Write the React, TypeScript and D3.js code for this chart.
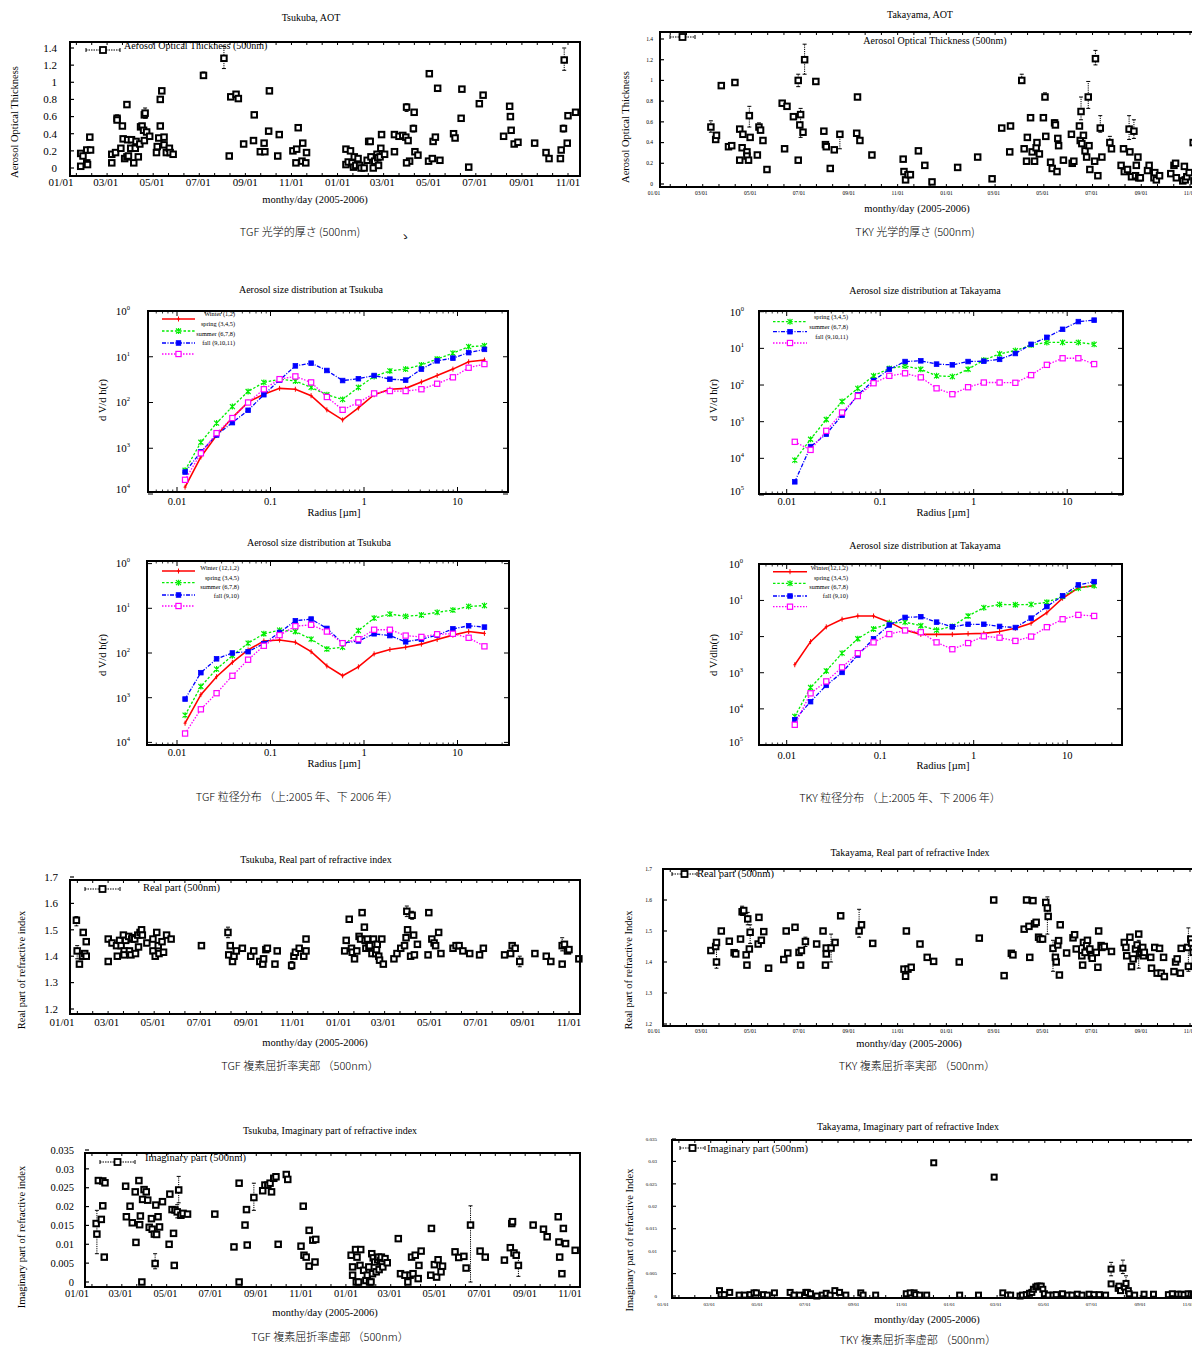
import React, { useEffect } from "react";
import * as d3 from "d3";

const SERIF = "'Liberation Serif', 'Times New Roman', serif";
const CJK = "'Noto Sans CJK JP', 'Noto Sans CJK SC', sans-serif";

// ---------- tick labels ----------
const monthTicks = ["2005-01-01", "2005-03-01", "2005-05-01", "2005-07-01", "2005-09-01", "2005-11-01",
  "2006-01-01", "2006-03-01", "2006-05-01", "2006-07-01", "2006-09-01", "2006-11-01"];
const radiusTicks = [0.01, 0.1, 1, 10];
const aotTicks = [0, 0.2, 0.4, 0.6, 0.8, 1, 1.2, 1.4];
const realTicks = [1.2, 1.3, 1.4, 1.5, 1.6, 1.7];
const imagTicks = [0, 0.005, 0.01, 0.015, 0.02, 0.025, 0.03, 0.035];
const decades4 = [0, 1, 2, 3, 4];
const decades5 = [0, 1, 2, 3, 4, 5];

// ---------- size distribution (radius in µm, dV/dln r) ----------
const radii = [0.0122, 0.018, 0.0265, 0.0391, 0.0576, 0.0849, 0.1251, 0.1845, 0.2719, 0.4008,
  0.5907, 0.8708, 1.283, 1.892, 2.789, 4.111, 6.059, 8.931, 13.16, 19.41];

const tgf05Winter = [1.41e-4, 6.46e-4, 1.91e-3, 4.68e-3, 1.02e-2, 1.51e-2, 2.04e-2, 1.95e-2, 1.41e-2, 6.92e-3,
  4.17e-3, 7.59e-3, 1.48e-2, 1.95e-2, 2.04e-2, 2.82e-2, 3.89e-2, 5.37e-2, 7.76e-2, 8.51e-2];
const tgf05Spring = [3.31e-4, 1.35e-3, 3.55e-3, 8.13e-3, 1.74e-2, 2.75e-2, 3.24e-2, 2.95e-2, 2.14e-2, 1.48e-2,
  1.17e-2, 2.14e-2, 3.72e-2, 4.9e-2, 5.37e-2, 6.61e-2, 8.91e-2, 0.12, 0.166, 0.174];
const tgf05Summer = [3.02e-4, 8.32e-4, 1.95e-3, 3.63e-3, 6.76e-3, 1.48e-2, 3.09e-2, 6.31e-2, 7.24e-2, 5.01e-2,
  3.02e-2, 3.31e-2, 3.89e-2, 3.24e-2, 3.09e-2, 5.37e-2, 8.13e-2, 9.33e-2, 0.123, 0.145];
const tgf05Fall = [2.04e-4, 7.76e-4, 2.14e-3, 4.57e-3, 1.0e-2, 1.95e-2, 3.24e-2, 3.72e-2, 2.75e-2, 1.32e-2,
  6.92e-3, 1.0e-2, 1.58e-2, 1.78e-2, 1.78e-2, 1.95e-2, 2.57e-2, 3.55e-2, 5.75e-2, 6.92e-2];

const tky05Spring = [8.91e-5, 3.31e-4, 1.15e-3, 3.55e-3, 8.13e-3, 1.78e-2, 2.82e-2, 3.31e-2, 2.69e-2, 1.78e-2,
  1.7e-2, 2.69e-2, 4.79e-2, 7.08e-2, 8.71e-2, 0.123, 0.145, 0.145, 0.145, 0.129];
const tky05Summer = [2.29e-5, 2.09e-4, 4.57e-4, 1.51e-3, 5.37e-3, 1.32e-2, 2.69e-2, 4.37e-2, 4.57e-2, 3.72e-2,
  3.55e-2, 4.37e-2, 4.47e-2, 5.01e-2, 7.24e-2, 0.129, 0.2, 0.331, 0.537, 0.589];
const tky05Fall = [2.82e-4, 1.7e-4, 5.62e-4, 1.78e-3, 5.01e-3, 1.12e-2, 1.78e-2, 2.09e-2, 1.62e-2, 8.13e-3,
  5.62e-3, 8.71e-3, 1.17e-2, 1.17e-2, 1.15e-2, 1.86e-2, 3.55e-2, 5.37e-2, 5.37e-2, 3.72e-2];

const tgf06Winter = [2.69e-4, 1.17e-3, 2.95e-3, 6.17e-3, 1.17e-2, 1.86e-2, 1.95e-2, 1.74e-2, 1.07e-2, 5.13e-3,
  3.09e-3, 4.9e-3, 9.55e-3, 1.2e-2, 1.35e-2, 1.58e-2, 2.0e-2, 2.51e-2, 3.02e-2, 2.75e-2];
const tgf06Spring = [4.07e-4, 1.78e-3, 4.37e-3, 8.71e-3, 1.66e-2, 2.69e-2, 3.24e-2, 3.02e-2, 2.04e-2, 1.23e-2,
  1.35e-2, 3.16e-2, 6.03e-2, 7.41e-2, 6.61e-2, 7.08e-2, 8.13e-2, 9.12e-2, 0.11, 0.115];
const tgf06Summer = [9.33e-4, 3.63e-3, 7.41e-3, 1.0e-2, 1.07e-2, 1.62e-2, 2.88e-2, 5.25e-2, 5.75e-2, 3.55e-2,
  1.66e-2, 1.86e-2, 2.69e-2, 2.45e-2, 1.78e-2, 2.04e-2, 2.51e-2, 3.47e-2, 4.07e-2, 3.8e-2];
const tgf06Fall = [1.58e-4, 5.5e-4, 1.26e-3, 3.09e-3, 7.08e-3, 1.45e-2, 2.51e-2, 3.98e-2, 4.27e-2, 3.02e-2,
  1.66e-2, 2.04e-2, 3.31e-2, 3.31e-2, 2.45e-2, 2.29e-2, 2.63e-2, 2.69e-2, 2.19e-2, 1.41e-2];

const tky06Winter = [1.66e-3, 7.24e-3, 1.86e-2, 3.02e-2, 3.72e-2, 3.72e-2, 2.51e-2, 1.51e-2, 1.15e-2, 1.15e-2,
  1.15e-2, 1.2e-2, 1.23e-2, 1.38e-2, 1.7e-2, 2.34e-2, 4.57e-2, 0.115, 0.224, 0.257];
const tky06Spring = [6.17e-5, 3.89e-4, 1.12e-3, 3.47e-3, 8.71e-3, 1.62e-2, 2.34e-2, 2.51e-2, 2.0e-2, 1.51e-2,
  1.91e-2, 3.72e-2, 6.31e-2, 7.76e-2, 7.59e-2, 7.76e-2, 8.91e-2, 0.129, 0.219, 0.257];
const tky06Summer = [5.01e-5, 1.58e-4, 4.47e-4, 1.02e-3, 3.09e-3, 8.71e-3, 2.09e-2, 3.39e-2, 3.55e-2, 2.51e-2,
  1.86e-2, 2.19e-2, 2.19e-2, 1.91e-2, 1.78e-2, 3.24e-2, 6.76e-2, 0.135, 0.269, 0.331];
const tky06Fall = [3.63e-5, 2.69e-4, 5.75e-4, 1.41e-3, 3.47e-3, 6.92e-3, 1.17e-2, 1.48e-2, 1.32e-2, 6.92e-3,
  4.47e-3, 6.61e-3, 1.02e-2, 9.33e-3, 7.59e-3, 1.0e-2, 1.82e-2, 3.02e-2, 3.98e-2, 3.72e-2];

// ---------- time series: [day since 2005-01-01, value] ----------
const tgfAot: [number, number][] = [[26,0.17],[26,0.02],[29,0.14],[34,0.21],[34,0.06],[35,0.04],[38,0.36],[39,0.21],[67,0.06],[67,0.16],[72,0.18],[74,0.58],[74,0.56],[79,0.23],[81,0.49],[82,0.34],[84,0.11],[87,0.13],[88,0.33],[87,0.74],[89,0.14],[92,0.23],[93,0.33],[96,0.06],[98,0.23],[99,0.31],[102,0.13],[104,0.28],[105,0.48],[107,0.49],[109,0.44],[110,0.32],[110,0.62],[111,0.64],[113,0.42],[117,0.37],[126,0.18],[127,0.25],[129,0.35],[131,0.49],[131,0.8],[133,0.9],[136,0.36],[136,0.27],[139,0.18],[143,0.23],[144,0.18],[148,0.16],[188,1.08],[215,1.28],[222,0.14],[224,0.83],[231,0.86],[234,0.81],[241,0.28],[255,0.62],[254,0.32],[263,0.19],[268,0.29],[269,0.19],[274,0.43],[275,0.9],[286,0.14],[288,0.39],[306,0.2],[310,0.06],[311,0.22],[313,0.47],[318,0.08],[319,0.29],[323,0.06],[324,0.18],
  [376,0.22],[376,0.04],[379,0.07],[382,0.2],[384,0.06],[386,0.01],[387,0.13],[389,0.03],[392,0.11],[394,0.03],[396,0.0],[400,0.0],[404,0.09],[406,0.31],[408,0.31],[409,0.13],[412,0.0],[414,0.08],[417,0.16],[418,0.12],[419,0.03],[421,0.13],[422,0.23],[423,0.39],[427,0.16],[440,0.19],[440,0.39],[446,0.37],[451,0.38],[455,0.36],[456,0.71],[458,0.32],[460,0.08],[456,0.06],[465,0.46],[466,0.65],[467,0.19],[471,0.15],[485,0.08],[486,1.1],[490,0.11],[491,0.31],[494,0.36],[497,0.93],[500,0.09],[518,0.4],[520,0.35],[528,0.58],[529,0.92],[538,0.01],[552,0.75],[557,0.85],[584,0.37],[592,0.72],[593,0.6],[594,0.44],[598,0.28],[603,0.3],[625,0.29],[640,0.18],[644,0.11],[659,0.11],[660,0.21],[663,0.46],[664,1.26],[668,0.29],[669,0.61],[679,0.65]];
const tgfAotErr: [number, number, number][] = [[215,1.16,1.42],[664,1.14,1.4],[188,1.05,1.12],[111,0.58,0.7],[74,0.53,0.62],[456,0.66,0.75],[465,0.42,0.5],[663,0.42,0.5]];

const tkyAot: [number, number][] = [[71,0.55],[77,0.43],[78,0.47],[84,0.95],[93,0.36],[97,0.37],[101,0.98],[107,0.53],[107,0.23],[110,0.35],[111,0.48],[116,0.31],[116,0.27],[118,0.23],[119,0.66],[120,0.45],[129,0.28],[131,0.55],[133,0.52],[136,0.42],[141,0.14],[160,0.78],[163,0.34],[166,0.75],[174,0.65],[180,0.23],[180,1.0],[182,0.57],[183,0.67],[186,0.5],[188,1.2],[202,0.99],[212,0.51],[214,0.38],[215,0.36],[220,0.15],[225,0.33],[232,0.48],[253,0.49],[254,0.84],[257,0.42],[272,0.28],[311,0.24],[312,0.12],[314,0.04],[317,0.09],[320,0.09],[330,0.32],[338,0.18],[347,0.02],[379,0.16],[404,0.26],[422,0.05],[434,0.54],[444,0.31],[445,0.56],[459,1.0],[462,0.34],[465,0.22],[466,0.45],[470,0.64],[472,0.31],[475,0.22],[477,0.35],[478,0.4],[481,0.29],[486,0.64],[488,0.84],[489,0.46],[495,0.21],[497,0.15],[500,0.59],[501,0.57],[503,0.12],[504,0.44],[505,0.37],[511,0.23],[521,0.48],[522,0.2],[524,0.22],[531,0.56],[532,0.42],[533,0.7],[534,0.39],[536,0.47],[538,0.32],[540,0.26],[542,0.84],[543,0.37],[544,0.14],[550,0.22],[551,1.21],[554,0.08],[557,0.54],[559,0.26],[569,0.4],[571,0.34],[583,0.18],[586,0.34],[587,0.12],[591,0.14],[593,0.53],[594,0.31],[596,0.07],[599,0.51],[601,0.08],[602,0.18],[604,0.26],[605,0.06],[607,0.06],[616,0.13],[618,0.18],[624,0.06],[625,0.11],[627,0.04],[631,0.08],[645,0.1],[649,0.18],[651,0.2],[652,0.06],[660,0.03],[662,0.17],[663,0.04],[665,0.07],[668,0.11],[673,0.4],[674,0.03],[676,0.09],[679,0.13],[681,0.04]];
const tkyAotErr: [number, number, number][] = [[188,1.06,1.35],[180,0.94,1.06],[183,0.45,0.73],[119,0.55,0.75],[71,0.5,0.61],[551,1.15,1.29],[542,0.73,0.99],[533,0.62,0.84],[459,0.97,1.06],[557,0.5,0.66],[593,0.43,0.66],[599,0.44,0.62],[232,0.34,0.5],[131,0.5,0.59],[488,0.82,0.88],[500,0.55,0.62],[569,0.37,0.46]];

const tgfReal: [number, number][] = [[19,1.536],[20,1.42],[23,1.37],[27,1.4],[28,1.49],[30,1.41],[32,1.4],[32,1.455],[61,1.465],[61,1.38],[66,1.45],[72,1.44],[73,1.4],[76,1.46],[78,1.44],[81,1.48],[82,1.42],[82,1.405],[84,1.46],[88,1.475],[89,1.42],[91,1.405],[92,1.465],[93,1.47],[96,1.465],[97,1.41],[100,1.48],[101,1.435],[103,1.49],[105,1.5],[106,1.48],[112,1.45],[120,1.465],[120,1.42],[123,1.4],[125,1.49],[127,1.44],[128,1.41],[132,1.455],[134,1.415],[138,1.48],[144,1.465],[184,1.44],[219,1.49],[220,1.405],[222,1.44],[225,1.38],[227,1.4],[230,1.42],[238,1.43],[249,1.4],[253,1.42],[261,1.38],[265,1.37],[266,1.39],[269,1.425],[271,1.43],[281,1.37],[284,1.42],[303,1.365],[306,1.4],[308,1.415],[313,1.43],[319,1.4],[322,1.465],[322,1.42],
  [373,1.42],[375,1.46],[379,1.54],[382,1.43],[383,1.415],[386,1.39],[389,1.42],[392,1.475],[394,1.465],[396,1.565],[399,1.51],[400,1.46],[401,1.43],[403,1.465],[405,1.435],[406,1.44],[409,1.41],[411,1.465],[414,1.41],[415,1.425],[416,1.445],[418,1.4],[419,1.385],[422,1.465],[424,1.37],[438,1.39],[442,1.41],[447,1.43],[452,1.44],[454,1.47],[455,1.57],[456,1.5],[460,1.4],[462,1.555],[464,1.48],[465,1.405],[469,1.445],[483,1.405],[484,1.565],[488,1.465],[491,1.45],[493,1.44],[497,1.49],[500,1.41],[516,1.43],[520,1.44],[524,1.44],[529,1.42],[538,1.41],[551,1.405],[556,1.43],[584,1.405],[592,1.41],[594,1.44],[598,1.43],[604,1.38],[624,1.41],[639,1.4],[645,1.38],[660,1.37],[660,1.44],[663,1.445],[667,1.42],[669,1.425],[682,1.39]];
const tgfRealErr: [number, number, number][] = [[19,1.515,1.55],[219,1.47,1.51],[455,1.55,1.59],[462,1.54,1.57],[604,1.36,1.4],[660,1.42,1.47],[303,1.35,1.38],[20,1.39,1.44]];

const tkyReal: [number, number][] = [[71,1.437],[77,1.45],[78,1.463],[78,1.4],[84,1.5],[94,1.467],[100,1.43],[102,1.426],[108,1.474],[110,1.562],[112,1.566],[115,1.423],[116,1.39],[117,1.539],[119,1.442],[120,1.496],[130,1.458],[131,1.544],[134,1.47],[137,1.498],[143,1.38],[162,1.408],[165,1.5],[167,1.429],[176,1.512],[181,1.431],[183,1.39],[184,1.437],[189,1.466],[203,1.458],[211,1.5],[214,1.39],[215,1.426],[215,1.445],[221,1.445],[226,1.463],[233,1.549],[256,1.5],[259,1.52],[273,1.46],[312,1.377],[314,1.354],[315,1.5],[317,1.377],[321,1.383],[332,1.458],[341,1.415],[349,1.402],[381,1.4],[406,1.477],[424,1.6],[437,1.356],[446,1.428],[448,1.423],[462,1.506],[465,1.6],[468,1.515],[469,1.415],[473,1.598],[475,1.523],[477,1.528],[480,1.48],[482,1.474],[485,1.474],[489,1.592],[491,1.574],[492,1.547],[498,1.444],[501,1.415],[502,1.4],[504,1.455],[505,1.469],[506,1.358],[507,1.52],[515,1.429],[523,1.478],[525,1.488],[527,1.442],[534,1.42],[535,1.39],[536,1.463],[538,1.431],[540,1.453],[541,1.47],[544,1.442],[546,1.42],[547,1.412],[552,1.431],[554,1.383],[555,1.5],[558,1.453],[559,1.447],[562,1.45],[571,1.434],[587,1.463],[589,1.447],[590,1.42],[594,1.48],[596,1.385],[598,1.41],[601,1.442],[603,1.455],[605,1.49],[606,1.426],[608,1.431],[608,1.442],[610,1.447],[611,1.42],[612,1.431],[620,1.415],[621,1.38],[625,1.447],[628,1.364],[631,1.444],[633,1.364],[636,1.415],[637,1.353],[649,1.369],[651,1.4],[653,1.41],[657,1.364],[658,1.444],[666,1.447],[667,1.386],[670,1.474],[671,1.461],[673,1.431],[676,1.404],[678,1.45],[681,1.447],[683,1.38],[685,1.351]];
const tkyRealErr: [number, number, number][] = [[78,1.38,1.46],[110,1.55,1.58],[117,1.52,1.56],[120,1.46,1.52],[221,1.4,1.49],[256,1.48,1.57],[491,1.49,1.61],[498,1.37,1.47],[605,1.38,1.47],[667,1.37,1.51],[189,1.45,1.48],[603,1.41,1.46]];

const tgfImag: [number, number][] = [[26,0.0155],[27,0.0127],[29,0.0269],[33,0.0166],[35,0.0268],[35,0.0202],[37,0.0066],[38,0.0263],[66,0.0254],[67,0.0173],[72,0.0201],[75,0.0157],[79,0.0239],[80,0.0105],[84,0.0269],[85,0.0152],[86,0.0175],[88,0.0],[89,0.0219],[91,0.0245],[94,0.0239],[96,0.0217],[98,0.0145],[101,0.0168],[102,0.014],[105,0.0127],[106,0.0049],[107,0.0204],[108,0.0126],[110,0.0173],[112,0.0146],[116,0.0213],[125,0.01],[126,0.0233],[129,0.0192],[131,0.0129],[132,0.0044],[133,0.0191],[136,0.0186],[138,0.0244],[141,0.0177],[144,0.0182],[150,0.018],[187,0.018],[213,0.0093],[220,0.0262],[220,0.0],[228,0.0151],[230,0.0192],[231,0.0098],[240,0.0224],[252,0.0242],[255,0.0257],[259,0.0257],[262,0.0262],[264,0.0239],[267,0.0275],[270,0.0279],[273,0.01],[284,0.0285],[286,0.0272],[304,0.0095],[307,0.0201],[308,0.0071],[311,0.0066],[315,0.0042],[315,0.0137],[320,0.0111],[323,0.0053],[324,0.0113],
  [372,0.0071],[374,0.004],[374,0.0018],[378,0.0086],[379,0.0],[380,0.0066],[382,0.0],[384,0.0044],[385,0.0086],[389,0.0031],[392,0.0004],[394,0.0018],[396,0.004],[397,0.0],[399,0.0],[400,0.0075],[401,0.0022],[402,0.0064],[404,0.0053],[406,0.0027],[408,0.0059],[409,0.0066],[410,0.0033],[412,0.0056],[413,0.0066],[414,0.0049],[415,0.004],[418,0.0062],[421,0.0051],[436,0.0115],[439,0.0022],[445,0.0018],[449,0.0],[452,0.0018],[454,0.0066],[456,0.0022],[459,0.0071],[463,0.0009],[464,0.0044],[467,0.0082],[480,0.0018],[481,0.0142],[485,0.0046],[488,0.0013],[490,0.0059],[494,0.0027],[496,0.0042],[513,0.008],[518,0.0065],[525,0.0068],[528,0.0037],[534,0.0151],[547,0.0082],[554,0.0066],[580,0.0058],[588,0.0091],[590,0.0155],[591,0.016],[593,0.0077],[596,0.0071],[599,0.0044],[619,0.0151],[633,0.014],[638,0.012],[653,0.0173],[654,0.0106],[655,0.0066],[658,0.0022],[660,0.0142],[663,0.0102],[676,0.0084]];
const tgfImagErr: [number, number, number][] = [[27,0.0075,0.019],[138,0.021,0.028],[240,0.019,0.0262],[534,0.0,0.0202],[599,0.0015,0.0077],[106,0.0035,0.0075],[136,0.017,0.0205]];

const tkyImag: [number, number][] = [[72,0.0012],[74,0.0003],[78,0.0003],[85,0.0008],[97,0.0002],[104,0.0002],[111,0.0003],[116,0.0007],[119,0.0007],[128,0.0003],[133,0.0002],[142,0.0007],[162,0.0008],[167,0.0002],[174,0.0002],[182,0.0008],[184,0.0008],[188,0.0005],[196,0.0],[203,0.0002],[208,0.0006],[213,0.0002],[219,0.0012],[225,0.0008],[233,0.0002],[252,0.0007],[255,0.0002],[271,0.0002],[310,0.0005],[315,0.0007],[320,0.0007],[322,0.0003],[327,0.0002],[336,0.0002],[345,0.0297],[378,0.0002],[402,0.0002],[422,0.0265],[433,0.0007],[439,0.0002],[443,0.0002],[455,0.0],[458,0.0002],[463,0.0003],[467,0.0006],[470,0.0008],[472,0.0015],[475,0.002],[477,0.0022],[480,0.0022],[482,0.0022],[484,0.0015],[486,0.0005],[491,0.0002],[497,0.0002],[501,0.0003],[509,0.0005],[516,0.0002],[521,0.0002],[528,0.0004],[534,0.0002],[543,0.0004],[549,0.0003],[556,0.0003],[564,0.0002],[571,0.006],[571,0.0027],[580,0.0017],[581,0.0022],[583,0.0012],[586,0.0062],[588,0.002],[590,0.0028],[593,0.0012],[594,0.0005],[601,0.0002],[613,0.0004],[625,0.0004],[644,0.0003],[649,0.0005],[656,0.0004],[660,0.0004],[664,0.0003],[669,0.0005],[673,0.0004],[676,0.0004],[680,0.0004]];
const tkyImagErr: [number, number, number][] = [[571,0.0045,0.0075],[586,0.005,0.008],[590,0.0015,0.0045]];

// ---------- helpers ----------
const parseDay = d3.timeParse("%Y-%m-%d");
const fmtMonth = d3.timeFormat("%m/%d");
const START = parseDay(monthTicks[0]) as Date;
const END = parseDay(monthTicks[monthTicks.length - 1]) as Date;
const num = (v: number) => `${+v.toFixed(3)}`;

type Box = { x0: number; x1: number; y0: number; y1: number };
type Txt = { t: string; x: number; y: number; size: number; anchor?: "start" | "middle" | "end"; rot?: boolean; font?: string; sp?: number; w?: number };

function Label({ t, x, y, size, anchor = "middle", rot, font = SERIF, sp, w }: Txt) {
  return (
    <text x={rot ? 0 : x} y={rot ? 0 : y} transform={rot ? `translate(${x},${y}) rotate(-90)` : undefined}
      fontSize={size} fontFamily={font} textAnchor={anchor} fill="#000" letterSpacing={sp} fontWeight={w}>{t}</text>
  );
}

type Legend = { x0: number; x1: number; y: number; text: string; tx: number; ty: number; tsize: number; anchor?: "start" | "middle" };

function TimePanel(p: {
  data: [number, number][]; errors: [number, number, number][]; box: Box; xAt: [number, number];
  yDomain: [number, number]; yPix: [number, number]; yTicks: number[]; tickFont: number; yTickX: number; xTickY: number;
  marker: number; texts: Txt[]; legend: Legend;
}) {
  const x = d3.scaleTime().domain([START, END]).range(p.xAt);
  const y = d3.scaleLinear().domain(p.yDomain).range(p.yPix);
  const dx = (d: number) => x(d3.timeDay.offset(START, d));
  const b = p.box;
  const m = p.marker;
  const lg = p.legend;
  const lmid = (lg.x0 + lg.x1) / 2;
  const step = (p.xAt[1] - p.xAt[0]) / (monthTicks.length - 1) / 3;
  const minor: number[] = [];
  for (let X = p.xAt[0]; X < b.x1 - 1; X += step) if (X > b.x0 + 1) minor.push(X);
  return (
    <g>
      {p.errors.map(([d, lo, hi], i) => {
        const X = dx(d);
        return (
          <g key={"e" + i} stroke="#000">
            <line x1={X} x2={X} y1={y(lo)} y2={y(hi)} strokeWidth={1} strokeDasharray="1.2,1" />
            <line x1={X - 2} x2={X + 2} y1={y(lo)} y2={y(lo)} strokeWidth={1} />
            <line x1={X - 2} x2={X + 2} y1={y(hi)} y2={y(hi)} strokeWidth={1} />
          </g>
        );
      })}
      {p.data.map(([d, v], i) => (
        <rect key={"p" + i} x={dx(d) - m / 2} y={y(v) - m / 2} width={m} height={m} fill="#fff" stroke="#000" strokeWidth={2} />
      ))}
      <rect x={b.x0} y={b.y0} width={b.x1 - b.x0} height={b.y1 - b.y0} fill="none" stroke="#000" strokeWidth={2} />
      {minor.map((X, i) => (
        <g key={"mn" + i} stroke="#000" strokeWidth={1}>
          <line x1={X} x2={X} y1={b.y1} y2={b.y1 - 3} />
          <line x1={X} x2={X} y1={b.y0} y2={b.y0 + 3} />
        </g>
      ))}
      {monthTicks.map((s, i) => {
        const X = x(parseDay(s) as Date);
        return (
          <text key={"xt" + i} x={X} y={p.xTickY} fontSize={p.tickFont} fontFamily={SERIF} textAnchor="middle">{fmtMonth(parseDay(s) as Date)}</text>
        );
      })}
      {p.yTicks.map((v, i) => (
        <g key={"yt" + i}>
          <line x1={b.x0} x2={b.x0 + 4} y1={y(v)} y2={y(v)} stroke="#000" strokeWidth={1.2} />
          <text x={p.yTickX} y={y(v)} dy="0.35em" fontSize={p.tickFont} fontFamily={SERIF} textAnchor="end">{num(v)}</text>
        </g>
      ))}
      <g stroke="#000">
        <line x1={lg.x0} x2={lg.x1} y1={lg.y} y2={lg.y} strokeWidth={1.2} strokeDasharray="1.5,1" />
        <line x1={lg.x0} x2={lg.x0} y1={lg.y - 2} y2={lg.y + 2} strokeWidth={1} />
        <line x1={lg.x1} x2={lg.x1} y1={lg.y - 2} y2={lg.y + 2} strokeWidth={1} />
        <rect x={lmid - 3} y={lg.y - 3} width={6} height={6} fill="#fff" strokeWidth={1.8} />
      </g>
      <text x={lg.tx} y={lg.ty} fontSize={lg.tsize} fontFamily={SERIF} textAnchor={lg.anchor || "start"}>{lg.text}</text>
      {p.texts.map((t, i) => <Label key={"t" + i} {...t} />)}
    </g>
  );
}

type Series = { values: number[]; color: string; dash?: string; kind: "plus" | "star" | "fill" | "open" };

function Marker({ kind, color, x, y }: { kind: Series["kind"]; color: string; x: number; y: number }) {
  if (kind === "plus") return <path d={`M${x - 1.5},${y}H${x + 1.5}M${x},${y - 2.5}V${y + 2.5}`} stroke={color} strokeWidth={1} fill="none" />;
  if (kind === "star") return <path d={`M${x - 2.5},${y - 2.5}L${x + 2.5},${y + 2.5}M${x - 2.5},${y + 2.5}L${x + 2.5},${y - 2.5}M${x},${y - 3}V${y + 3}`} stroke={color} strokeWidth={1.2} fill="none" />;
  if (kind === "fill") return <rect x={x - 2.3} y={y - 2.3} width={4.6} height={4.6} fill={color} stroke={color} strokeWidth={0.8} />;
  return <rect x={x - 2.6} y={y - 2.6} width={5.2} height={5.2} fill="#fff" stroke={color} strokeWidth={1.2} />;
}

type SizeLegend = { lineY: number[]; textY: number[]; x0: number; x1: number; textX: number; labels: string[] };

function SizePanel(p: {
  box: Box; xPix: [number, number]; maxExp: number; yPix: [number, number]; exps: number[]; yTickX: number; xTickY: number;
  series: Series[]; legend: SizeLegend; legendSeries: Series[]; texts: Txt[];
}) {
  const x = d3.scaleLog().domain([0.01, 10]).range(p.xPix);
  const y = d3.scaleLog().domain([Math.pow(10, -p.maxExp), 1]).range(p.yPix);
  const b = p.box;
  const line = d3.line<number>().x((_, i) => x(radii[i])).y((v) => y(v));
  const minor: number[] = [];
  [0.01, 0.1, 1, 10].forEach((dcd) => [2, 3, 4, 5, 6, 7, 8, 9].forEach((k) => {
    const v = dcd * k; const X = x(v); if (X > b.x0 && X < b.x1) minor.push(X);
  }));
  [0.006, 0.007, 0.008, 0.009].forEach((v) => { const X = x(v); if (X > b.x0) minor.push(X); });
  const lg = p.legend;
  return (
    <g>
      <rect x={b.x0} y={b.y0} width={b.x1 - b.x0} height={b.y1 - b.y0} fill="#fff" stroke="#000" strokeWidth={2} />
      {minor.map((X, i) => (
        <g key={"mn" + i} stroke="#000" strokeWidth={0.8}>
          <line x1={X} x2={X} y1={b.y1} y2={b.y1 - 2.5} />
          <line x1={X} x2={X} y1={b.y0} y2={b.y0 + 2.5} />
        </g>
      ))}
      {radiusTicks.map((r, i) => (
        <g key={"rx" + i}>
          <line x1={x(r)} x2={x(r)} y1={b.y1} y2={b.y1 - 5} stroke="#000" strokeWidth={1} />
          <line x1={x(r)} x2={x(r)} y1={b.y0} y2={b.y0 + 5} stroke="#000" strokeWidth={1} />
          <text x={x(r)} y={p.xTickY} fontSize={10.5} fontFamily={SERIF} textAnchor="middle">{r}</text>
        </g>
      ))}
      {p.exps.map((e, i) => {
        const Y = y(Math.pow(10, -e));
        return (
          <g key={"ey" + i}>
            <line x1={b.x0} x2={b.x0 + 5} y1={Y} y2={Y} stroke="#000" strokeWidth={1} />
            <line x1={b.x1} x2={b.x1 - 5} y1={Y} y2={Y} stroke="#000" strokeWidth={1} />
            <text x={p.yTickX} y={Math.min(Y, b.y1 - 3)} dy="0.35em" fontSize={11} fontFamily={SERIF} textAnchor="end">
              10<tspan dy={-5} fontSize={6.5}>{e}</tspan>
            </text>
          </g>
        );
      })}
      {p.series.map((s, si) => (
        <g key={"s" + si}>
          <path d={line(s.values) || ""} fill="none" stroke={s.color} strokeWidth={s.kind === "plus" ? 1.6 : 1.3} strokeDasharray={s.dash} />
          {s.values.map((v, i) => <Marker key={i} kind={s.kind} color={s.color} x={x(radii[i])} y={y(v)} />)}
        </g>
      ))}
      {p.legendSeries.map((s, i) => (
        <g key={"lg" + i}>
          <line x1={lg.x0} x2={lg.x1} y1={lg.lineY[i]} y2={lg.lineY[i]} stroke={s.color} strokeWidth={s.kind === "plus" ? 1.6 : 1.3} strokeDasharray={s.dash} />
          <Marker kind={s.kind} color={s.color} x={(lg.x0 + lg.x1) / 2} y={lg.lineY[i]} />
        </g>
      ))}
      {lg.labels.map((t, i) => (
        <text key={"lt" + i} x={lg.textX} y={lg.textY[i]} fontSize={6.3} fontFamily={SERIF} textAnchor="end">{t}</text>
      ))}
      {p.texts.map((t, i) => <Label key={"t" + i} {...t} />)}
    </g>
  );
}

const RED = "#ff0000", GREEN = "#00ee00", BLUE = "#0000ff", MAG = "#ff00ff";
const DASH_G = "2.5,1.8", DASH_B = "4,1.5,1,1.5", DASH_M = "1.5,1.5";

export default function App() {
  useEffect(() => {
    document.body.style.margin = "0";
    document.body.style.overflow = "hidden";
  }, []);
  const tgfSeries05: Series[] = [
    { values: tgf05Winter, color: RED, kind: "plus" },
    { values: tgf05Spring, color: GREEN, dash: DASH_G, kind: "star" },
    { values: tgf05Summer, color: BLUE, dash: DASH_B, kind: "fill" },
    { values: tgf05Fall, color: MAG, dash: DASH_M, kind: "open" },
  ];
  const tkySeries05: Series[] = [
    { values: tky05Spring, color: GREEN, dash: DASH_G, kind: "star" },
    { values: tky05Summer, color: BLUE, dash: DASH_B, kind: "fill" },
    { values: tky05Fall, color: MAG, dash: DASH_M, kind: "open" },
  ];
  const tgfSeries06: Series[] = [
    { values: tgf06Winter, color: RED, kind: "plus" },
    { values: tgf06Spring, color: GREEN, dash: DASH_G, kind: "star" },
    { values: tgf06Summer, color: BLUE, dash: DASH_B, kind: "fill" },
    { values: tgf06Fall, color: MAG, dash: DASH_M, kind: "open" },
  ];
  const tkySeries06: Series[] = [
    { values: tky06Winter, color: RED, kind: "plus" },
    { values: tky06Spring, color: GREEN, dash: DASH_G, kind: "star" },
    { values: tky06Summer, color: BLUE, dash: DASH_B, kind: "fill" },
    { values: tky06Fall, color: MAG, dash: DASH_M, kind: "open" },
  ];
  const cap = { size: 11, font: CJK, w: 300 };
  return (
    <div style={{ position: "absolute", left: 0, top: 0, width: 1192, height: 1348, overflow: "hidden", background: "#fff" }}>
      <svg width={1192} height={1348} style={{ display: "block" }}>
        <rect width={1192} height={1348} fill="#fff" />
        {/* Tsukuba AOT */}
        <TimePanel data={tgfAot} errors={tgfAotErr} box={{ x0: 70, x1: 580, y0: 42, y1: 176 }} xAt={[61, 568]}
          yDomain={[0, 1.4]} yPix={[168, 48]} yTicks={aotTicks} tickFont={11} yTickX={57} xTickY={186} marker={5.5}
          legend={{ x0: 86, x1: 120, y: 50, text: "Aerosol Optical Thickness (500nm)", tx: 124, ty: 49, tsize: 10 }}
          texts={[
            { t: "Tsukuba, AOT", x: 311, y: 21, size: 10 },
            { t: "Aerosol Optical Thickness", x: 18, y: 122, size: 10.5, rot: true },
            { t: "monthy/day (2005-2006)", x: 315, y: 203, size: 10.5 },
            { t: "TGF  光学的厚さ (500nm)", x: 300, y: 236, ...cap },
            { t: "ゝ", x: 405, y: 240, size: 9, font: CJK },
          ]} />
        {/* Takayama AOT */}
        <TimePanel data={tkyAot} errors={tkyAotErr} box={{ x0: 660, x1: 1260, y0: 32, y1: 187 }} xAt={[654, 1190]}
          yDomain={[0, 1.4]} yPix={[184, 39]} yTicks={aotTicks} tickFont={5.5} yTickX={653} xTickY={195} marker={5.5}
          legend={{ x0: 670, x1: 695, y: 37, text: "Aerosol Optical Thickness (500nm)", tx: 935, ty: 44, tsize: 10, anchor: "middle" }}
          texts={[
            { t: "Takayama, AOT", x: 920, y: 18, size: 10 },
            { t: "Aerosol Optical Thickness", x: 629, y: 127, size: 10.5, rot: true },
            { t: "monthy/day (2005-2006)", x: 917, y: 212, size: 10.5 },
            { t: "TKY  光学的厚さ (500nm)", x: 915, y: 236, ...cap },
          ]} />
        {/* Size distributions 2005 */}
        <SizePanel box={{ x0: 148, x1: 508, y0: 311, y1: 492 }} xPix={[177, 457.5]} maxExp={4} yPix={[494, 311]} exps={decades4}
          yTickX={130} xTickY={505} series={tgfSeries05} legendSeries={tgfSeries05}
          legend={{ lineY: [319, 331, 343, 354], textY: [316, 326, 336, 345], x0: 162, x1: 195, textX: 235,
            labels: ["Winter (1,2)", "spring (3,4,5)", "summer (6,7,8)", "fall (9,10,11)"] }}
          texts={[
            { t: "Aerosol size distribution at Tsukuba", x: 311, y: 293, size: 10 },
            { t: "d V/d h(r)", x: 106, y: 400, size: 10.5, rot: true },
            { t: "Radius [µm]", x: 334, y: 516, size: 10.5 },
          ]} />
        <SizePanel box={{ x0: 759, x1: 1123, y0: 311, y1: 494 }} xPix={[786.7, 1067.2]} maxExp={5} yPix={[495, 311.7]} exps={decades5}
          yTickX={744} xTickY={505} series={tkySeries05} legendSeries={tkySeries05}
          legend={{ lineY: [321.7, 331.7, 343], textY: [319, 329, 338.5], x0: 773, x1: 807, textX: 848,
            labels: ["spring (3,4,5)", "summer (6,7,8)", "fall (9,10,11)"] }}
          texts={[
            { t: "Aerosol size distribution at Takayama", x: 925, y: 294, size: 10 },
            { t: "d V/d h(r)", x: 717, y: 400, size: 10.5, rot: true },
            { t: "Radius [µm]", x: 943, y: 516, size: 10.5 },
          ]} />
        {/* Size distributions 2006 */}
        <SizePanel box={{ x0: 147, x1: 509, y0: 561, y1: 745 }} xPix={[177, 457.5]} maxExp={4} yPix={[742.4, 563.6]} exps={decades4}
          yTickX={130} xTickY={756} series={tgfSeries06} legendSeries={tgfSeries06}
          legend={{ lineY: [571, 582.7, 595, 606], textY: [570, 579.5, 588.5, 597.5], x0: 162, x1: 195, textX: 239,
            labels: ["Winter (12,1,2)", "spring (3,4,5)", "summer (6,7,8)", "fall (9,10)"] }}
          texts={[
            { t: "Aerosol size distribution at Tsukuba", x: 319, y: 546, size: 10 },
            { t: "d V/d h(r)", x: 106, y: 655, size: 10.5, rot: true },
            { t: "Radius [µm]", x: 334, y: 767, size: 10.5 },
            { t: "TGF  粒径分布 （上:2005 年、下 2006 年）", x: 297, y: 801, ...cap },
          ]} />
        <SizePanel box={{ x0: 759, x1: 1122, y0: 564, y1: 745 }} xPix={[786.7, 1067.2]} maxExp={5} yPix={[745, 564.3]} exps={decades5}
          yTickX={743} xTickY={759} series={tkySeries06} legendSeries={tkySeries06}
          legend={{ lineY: [571.7, 583.3, 596, 606.7], textY: [570, 579.5, 589, 598], x0: 773, x1: 807, textX: 848,
            labels: ["Winter(12,1,2)", "spring (3,4,5)", "summer (6,7,8)", "fall (9,10)"] }}
          texts={[
            { t: "Aerosol size distribution at Takayama", x: 925, y: 549, size: 10 },
            { t: "d V/dln(r)", x: 717, y: 655, size: 10.5, rot: true },
            { t: "Radius [µm]", x: 943, y: 769, size: 10.5 },
            { t: "TKY  粒径分布 （上:2005 年、下 2006 年）", x: 900, y: 802, ...cap },
          ]} />
        {/* Real part */}
        <TimePanel data={tgfReal} errors={tgfRealErr} box={{ x0: 70, x1: 580, y0: 880, y1: 1014 }} xAt={[62, 569]}
          yDomain={[1.2, 1.7]} yPix={[1009, 877]} yTicks={realTicks} tickFont={11} yTickX={58} xTickY={1026} marker={5.5}
          legend={{ x0: 85, x1: 120, y: 889, text: "Real part (500nm)", tx: 143, ty: 891, tsize: 10.5 }}
          texts={[
            { t: "Tsukuba, Real part of refractive index", x: 316, y: 863, size: 10 },
            { t: "Real part of refractive index", x: 25, y: 970, size: 10.5, rot: true },
            { t: "monthy/day (2005-2006)", x: 315, y: 1046, size: 10.5 },
            { t: "TGF  複素屈折率実部 （500nm）", x: 300, y: 1070, ...cap },
          ]} />
        <TimePanel data={tkyReal} errors={tkyRealErr} box={{ x0: 663, x1: 1260, y0: 869, y1: 1026 }} xAt={[654, 1190]}
          yDomain={[1.2, 1.7]} yPix={[1024, 869]} yTicks={realTicks} tickFont={5.5} yTickX={652} xTickY={1033} marker={5.5}
          legend={{ x0: 672, x1: 697, y: 874, text: "Real part (500nm)", tx: 697, ty: 877, tsize: 10.5 }}
          texts={[
            { t: "Takayama, Real part of refractive Index", x: 910, y: 856, size: 10 },
            { t: "Real part of refractive Index", x: 632, y: 970, size: 10.5, rot: true },
            { t: "monthy/day (2005-2006)", x: 909, y: 1047, size: 10.5 },
            { t: "TKY  複素屈折率実部 （500nm）", x: 917, y: 1070, ...cap },
          ]} />
        {/* Imaginary part */}
        <TimePanel data={tgfImag} errors={tgfImagErr} box={{ x0: 85, x1: 580, y0: 1153, y1: 1287 }} xAt={[77, 570]}
          yDomain={[0, 0.035]} yPix={[1282, 1150]} yTicks={imagTicks} tickFont={10.5} yTickX={74} xTickY={1297} marker={5.5}
          legend={{ x0: 100, x1: 135, y: 1162, text: "Imaginary part (500nm)", tx: 145, ty: 1161, tsize: 10.5 }}
          texts={[
            { t: "Tsukuba, Imaginary part of refractive index", x: 330, y: 1134, size: 10 },
            { t: "Imaginary part of refractive index", x: 25, y: 1237, size: 10.5, rot: true },
            { t: "monthy/day (2005-2006)", x: 325, y: 1316, size: 10.5 },
            { t: "TGF  複素屈折率虚部 （500nm）", x: 330, y: 1341, ...cap },
          ]} />
        <TimePanel data={tkyImag} errors={tkyImagErr} box={{ x0: 672, x1: 1260, y0: 1140, y1: 1298 }} xAt={[663, 1188]}
          yDomain={[0, 0.035]} yPix={[1296, 1139]} yTicks={imagTicks} tickFont={5} yTickX={657} xTickY={1306} marker={5}
          legend={{ x0: 680, x1: 705, y: 1148, text: "Imaginary part (500nm)", tx: 707, ty: 1152, tsize: 10.5 }}
          texts={[
            { t: "Takayama, Imaginary part of refractive Index", x: 908, y: 1130, size: 10 },
            { t: "Imaginary part of refractive Index", x: 633, y: 1240, size: 10.5, rot: true },
            { t: "monthy/day (2005-2006)", x: 927, y: 1323, size: 10.5 },
            { t: "TKY  複素屈折率虚部 （500nm）", x: 918, y: 1344, ...cap },
          ]} />
      </svg>
    </div>
  );
}
